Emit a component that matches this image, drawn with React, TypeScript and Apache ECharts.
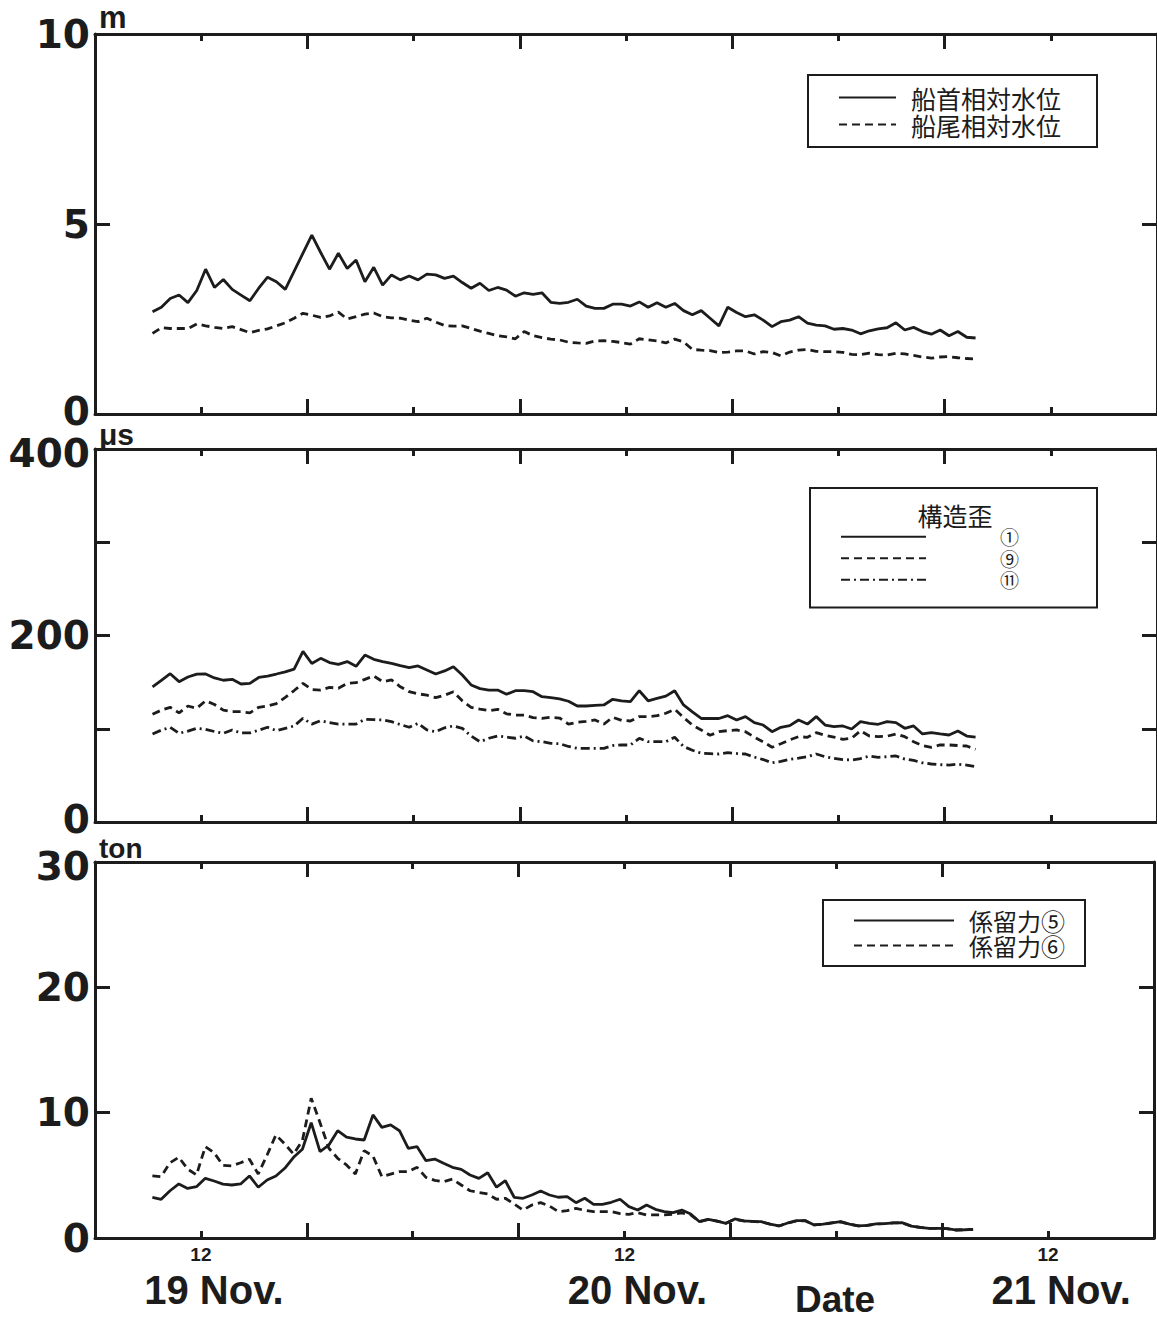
import React, { useEffect, useRef } from 'react';
import * as echarts from 'echarts';

// ---- data (hours counted from 19 Nov 00:00) ----
const START_HOUR = 9.25;
const STEP_HOURS = 0.5;

// relative water level [m]
const bowLevel = [
  2.69, 2.81, 3.04, 3.13, 2.93, 3.25, 3.81, 3.33, 3.54, 3.28,
  3.13, 2.98, 3.31, 3.60, 3.48, 3.28, null, null, 4.71, 4.25,
  3.81, 4.23, 3.83, 4.05, 3.48, 3.86, 3.39, 3.66, 3.53, 3.63,
  3.53, 3.68, 3.66, 3.57, 3.63, 3.46, 3.31, 3.44, 3.25, 3.33,
  3.26, 3.10, 3.19, 3.15, 3.19, 2.94, 2.91,
  2.94, 3.02, 2.84, 2.78, 2.78, 2.89, 2.89, 2.84, 2.95, 2.81,
  2.93, 2.81, 2.91, 2.72, 2.61, 2.72, 2.52, 2.32, 2.81, 2.67,
  2.56, 2.61, 2.47, 2.30, 2.43, 2.47, 2.56, 2.39, 2.34, 2.32,
  2.23, 2.25, 2.21, 2.11, 2.19, 2.24, 2.27, 2.40, 2.21, 2.28,
  2.17, 2.10, 2.21, 2.06, 2.17, 2.02, 2.00,
];
const sternLevel = [
  2.12, 2.27, 2.25, 2.25, 2.25, 2.37, 2.32, 2.28, 2.25, 2.30,
  2.22, 2.14, 2.20, 2.24, 2.32, 2.40, 2.52, 2.65, 2.60, 2.54,
  2.58, 2.68, 2.50, 2.56, 2.63, 2.66, 2.56, 2.53, 2.52, 2.47,
  2.43, 2.52, 2.42, 2.33, 2.31, 2.32, 2.25, 2.18, 2.12, 2.06,
  2.03, 1.98, 2.17, 2.06, 2.01, 1.97, 1.95,
  1.89, 1.87, 1.86, 1.92, 1.93, 1.91, 1.88, 1.84, 1.98, 1.95,
  1.92, 1.87, 1.97, 1.90, 1.70, 1.68, 1.67, 1.62, 1.63, 1.66,
  1.66, 1.58, 1.64, 1.62, 1.53, 1.63, 1.68, 1.70, 1.65, 1.64,
  1.64, 1.62, 1.57, 1.56, 1.60, 1.56, 1.55, 1.60, 1.58, 1.54,
  1.50, 1.47, 1.50, 1.51, 1.48, 1.46, 1.45,
];

// structural strain [micro strain]
const strain1 = [
  145, 152, 159, 150.5, 155.5, 158.5, 158.7, 154.5, 152, 153,
  148, 148.7, 155, 156.5, 158.7, 161, 164, 183, 170, 175.5,
  171, 169, 172, 167, 179, 174.5, 172, 170, 167.6, 165.5,
  167.3, 163, 158.7, 162, 166.5, 157.6, 147, 143, 141.5, 141.5,
  137, 140.8, 140.8, 139.7, 134.4, 133.3, 132,
  129.5, 124.4, 124.4, 125, 125.5, 131.6, 130, 129, 140.8, 130,
  132.5, 135, 140.8, 125.5, 118, 111, 111, 111, 114, 109.4,
  113, 106.5, 104, 96.8, 101.6, 103.3, 109.4, 105, 113, 104,
  102.2, 103, 99.7, 107.6, 105.8, 104.8, 107.6, 106.5, 100.5, 103,
  94.4, 95.8, 94.4, 93.3, 97.6, 92.2, 91,
];
const strain9 = [
  115.5, 120, 123, 117, 124.4, 122, 130, 126, 120, 118.3,
  118.3, 117, 123, 124.5, 127, 133.7, 141, 148.7, 142, 141.5,
  144.4, 143.4, 148.7, 149.4, 153, 156.6, 150.5, 152.3, 145, 139.7,
  137.5, 136, 133.3, 136, 139.7, 130, 123, 121, 119.4, 120.9,
  116, 114.7, 114.7, 112, 111.2, 112.3, 111.5,
  105, 107, 108, 109.4, 105, 112.3, 109, 108.3, 113, 113,
  114, 116.6, 120.9, 112, 104, 98.7, 93, 96.8, 98, 98.7,
  96.8, 91, 86, 80.1, 84, 88, 91.5, 90.8, 95.8, 93,
  91, 88.7, 89.8, 97.9, 92.2, 91.5, 92, 94.4, 91.5, 86.1,
  82, 80.1, 82.6, 82.6, 82, 81.5, 78,
];
const strain11 = [
  94.4, 98.5, 101.6, 95.1, 97.5, 100.5, 99.4, 97, 95.1, 98.7,
  95.5, 95.5, 98.5, 101.6, 98, 100.5, 103, 111.2, 105, 108.6,
  106.5, 105, 105, 105, 110.1, 109.7, 109.4, 107.6, 104.5, 101.6,
  105.8, 98.7, 96.8, 101, 103, 100.5, 92.2, 86.1, 89.8, 92.2,
  91, 89.8, 92.2, 87, 86.1, 84.4, 84,
  81, 79, 79, 79, 79, 82, 82.6, 82.6, 89.8, 86.1,
  86.1, 86.1, 90.8, 81, 77, 73.7, 73.3, 72.9, 74.3, 73.5,
  72.9, 69.5, 67, 63.5, 65, 67.2, 68.5, 70, 72.9, 70,
  68.3, 67, 66.5, 68, 70.8, 69.4, 70, 70.8, 67.5, 66,
  63.5, 62.2, 61.5, 61.1, 62, 61, 59.3,
];

// mooring force [ton]
const mooring5 = [
  3.25, 3.09, 3.77, 4.31, 3.95, 4.09, 4.76, 4.55, 4.30, 4.23,
  4.31, 4.95, 4.05, 4.63, 4.95, 5.56, 6.44, 7.08, 9.20, 6.89,
  7.42, 8.56, 8.04, 7.90, 7.82, 9.82, 8.83, 9.02, 8.56, 7.16,
  7.29, 6.17, 6.30, 5.96, 5.64, 5.48, 5.03, 4.76, 5.21, 4.05,
  4.57, 3.25, 3.17, 3.43, 3.75, 3.43, 3.25,
  3.30, 2.82, 3.17, 2.69, 2.69, 2.85, 3.09, 2.50, 2.23, 2.63,
  2.29, 2.10, 2.02, 2.23, 1.92, 1.30, 1.49, 1.35, 1.17, 1.52,
  1.36, 1.32, 1.30, 1.10, 0.96, 1.20, 1.38, 1.38, 1.04, 1.10,
  1.20, 1.30, 1.10, 0.96, 1.00, 1.12, 1.15, 1.20, 1.22, 0.95,
  0.85, 0.77, 0.77, 0.75, 0.64, 0.66, 0.69,
];
const mooring6 = [
  4.95, 4.90, 6.00, 6.44, 5.50, 5.03, 7.29, 6.80, 5.80, 5.75,
  6.00, 6.28, 5.11, 6.62, 8.22, 7.50, 6.70, 7.77, 11.15, 9.20,
  7.16, 6.36, 5.83, 5.11, 6.97, 6.54, 4.90, 5.10, 5.29, 5.29,
  5.64, 4.84, 4.60, 4.49, 4.70, 4.23, 3.77, 3.62, 3.51, 3.09,
  3.17, 2.71, 2.23, 2.63, 2.82, 2.55, 2.10,
  2.18, 2.37, 2.20, 2.10, 2.10, 2.10, 1.95, 1.89, 2.02, 1.84,
  1.84, 1.84, 1.90, 2.00, 1.85, 1.30, 1.49, 1.35, 1.17, 1.50,
  1.36, 1.32, 1.28, 1.10, 0.96, 1.18, 1.36, 1.38, 1.04, 1.10,
  1.20, 1.28, 1.10, 0.96, 1.00, 1.12, 1.15, 1.20, 1.20, 0.95,
  0.85, 0.77, 0.77, 0.75, 0.64, 0.66, 0.69,
];

const hours = bowLevel.map((_, i) => START_HOUR + i * STEP_HOURS);

// axis texts
const X_MIN = 6;
const X_MAX = 66;
const DATE_LABEL_HOURS = [12, 36, 60];
const HOUR_LABEL = '12';
const DATE_LABELS = ['19 Nov.', '20 Nov.', '21 Nov.'];
const X_TITLE = 'Date';
const UNITS = ['m', 'μs', 'ton'];
const Y_MAX = [10, 400, 30];
const Y_INTERVAL = [5, 100, 10];
const Y_LABEL_STEP = [5, 200, 10];

const LEVEL_NAMES = ['船首相対水位', '船尾相対水位'];
const STRAIN_TITLE = '構造歪';
const STRAIN_NAMES = ['①', '⑨', '⑪'];
const MOORING_NAMES = ['係留力⑤', '係留力⑥'];

const INK = '#1c1c1c';
const CJK = '"Noto Sans CJK JP", "Noto Sans CJK SC", sans-serif';
const SANS = '"Liberation Sans", Arial, sans-serif';
const WIDE = '"DejaVu Sans", sans-serif';
const NARROW = '"Liberation Sans Narrow", "Liberation Sans", sans-serif';

const SOLID = 'solid';
const DASHED = [8, 5];
const DASH_DOT = [9, 4, 2, 4];

export default function App() {
  const ref = useRef<HTMLDivElement>(null);

  useEffect(() => {
    if (!ref.current) return;
    const chart = echarts.init(ref.current, undefined, { renderer: 'svg' });

    const grids = [
      { left: 95, top: 34, width: 1064, height: 380 },
      { left: 95, top: 449, width: 1064, height: 373 },
      { left: 95, top: 862, width: 1064, height: 376 },
    ];

    const axisLineStyle = { color: INK, width: 3 };

    const tickX = (gridIndex: number, position: string) => ({
      type: 'value',
      gridIndex,
      position,
      min: X_MIN,
      max: X_MAX,
      interval: 12,
      axisLine: { show: true, onZero: false, lineStyle: axisLineStyle },
      axisTick: { show: true, inside: true, length: 15, lineStyle: { color: INK, width: 3 } },
      minorTick: { show: true, splitNumber: 2, length: 7, lineStyle: { color: INK, width: 3 } },
      axisLabel: { show: false },
      splitLine: { show: false },
      minorSplitLine: { show: false },
    });

    const xAxes: any[] = [];
    grids.forEach((_, g) => {
      xAxes.push(tickX(g, 'bottom'));
      xAxes.push(tickX(g, 'top'));
    });
    xAxes.push({
      type: 'value',
      gridIndex: 2,
      position: 'bottom',
      min: X_MIN,
      max: X_MAX,
      interval: 6,
      axisLine: { show: false, onZero: false },
      axisTick: { show: false },
      splitLine: { show: false },
      axisLabel: {
        show: true,
        margin: 5,
        formatter: (v: number) => {
          const i = DATE_LABEL_HOURS.indexOf(v);
          return i < 0 ? '' : `{h|${HOUR_LABEL}}\n{d|${DATE_LABELS[i]}}`;
        },
        rich: {
          h: { fontSize: 19, fontWeight: 'bold', fontFamily: NARROW, color: INK, lineHeight: 22 },
          d: { fontSize: 40, fontWeight: 'bold', fontFamily: SANS, color: INK, lineHeight: 50, padding: [0, 0, 0, 26] },
        },
      },
    });

    const yLabelRich = {
      lo: { fontSize: 39, fontWeight: 'bold', fontFamily: WIDE, color: INK, lineHeight: 34, padding: [0, 0, 6, 0] },
      mid: { fontSize: 39, fontWeight: 'bold', fontFamily: WIDE, color: INK, lineHeight: 34 },
      hi: { fontSize: 39, fontWeight: 'bold', fontFamily: WIDE, color: INK, lineHeight: 34, padding: [8, 0, 0, 0] },
    };

    const yAxes: any[] = [];
    const unitGaps = [1, 0, 0];
    const unitSizes = [31, 30, 28];
    grids.forEach((_, g) => {
      yAxes.push({
        type: 'value',
        gridIndex: g,
        position: 'left',
        min: 0,
        max: Y_MAX[g],
        interval: Y_INTERVAL[g],
        name: UNITS[g],
        nameLocation: 'end',
        nameGap: unitGaps[g],
        nameTextStyle: {
          align: 'left',
          verticalAlign: 'bottom',
          fontSize: unitSizes[g],
          fontWeight: 'bold',
          fontFamily: SANS,
          color: INK,
          padding: [0, 0, 0, 4],
        },
        axisLine: { show: true, onZero: false, lineStyle: axisLineStyle },
        axisTick: { show: true, inside: true, length: 15, lineStyle: { color: INK, width: 3 } },
        axisLabel: {
          show: true,
          margin: 5,
          fontSize: 39,
          fontWeight: 'bold',
          fontFamily: WIDE,
          color: INK,
          rich: yLabelRich,
          formatter: (v: number) => {
            if (v % Y_LABEL_STEP[g] !== 0) return '';
            if (v === 0 && g < 2) return `{lo|${v}}`;
            if (v === Y_MAX[g] && g > 0) return `{hi|${v}}`;
            return `{mid|${v}}`;
          },
        },
        splitLine: { show: false },
      });
      yAxes.push({
        type: 'value',
        gridIndex: g,
        position: 'right',
        min: 0,
        max: Y_MAX[g],
        interval: Y_INTERVAL[g],
        axisLine: { show: true, onZero: false, lineStyle: axisLineStyle },
        axisTick: { show: true, inside: true, length: 15, lineStyle: { color: INK, width: 3 } },
        axisLabel: { show: false },
        splitLine: { show: false },
      });
    });

    const line = (name: string, values: (number | null)[], g: number, type: any) => ({
      type: 'line',
      name,
      xAxisIndex: g * 2,
      yAxisIndex: g * 2,
      data: hours.map((h, i) => [h, values[i]]),
      symbol: 'none',
      connectNulls: true,
      silent: true,
      lineStyle: { color: INK, width: 2.8, type },
      itemStyle: { color: INK },
      z: 3,
    });

    const series = [
      line(LEVEL_NAMES[0], bowLevel, 0, SOLID),
      line(LEVEL_NAMES[1], sternLevel, 0, DASHED),
      line(STRAIN_NAMES[0], strain1, 1, SOLID),
      line(STRAIN_NAMES[1], strain9, 1, DASHED),
      line(STRAIN_NAMES[2], strain11, 1, DASH_DOT),
      line(MOORING_NAMES[0], mooring5, 2, SOLID),
      line(MOORING_NAMES[1], mooring6, 2, DASHED),
    ];

    const legendBase = {
      orient: 'vertical',
      selectedMode: false,
      itemGap: 0,
      borderColor: INK,
      borderWidth: 2,
      backgroundColor: '#fff',
      itemStyle: { opacity: 0 },
    };

    const option: any = {
      animation: false,
      backgroundColor: '#fff',
      grid: grids,
      xAxis: xAxes,
      yAxis: yAxes,
      series,
      legend: [
        {
          ...legendBase,
          data: LEVEL_NAMES,
          left: 808,
          top: 75,
          padding: [9, 36, 9, 30],
          itemWidth: 57,
          itemHeight: 27,
          textStyle: { fontSize: 25, lineHeight: 27, fontFamily: CJK, color: INK, padding: [0, 0, 0, 10] },
        },
        {
          ...legendBase,
          data: STRAIN_NAMES,
          left: 810,
          top: 488,
          padding: [38, 78, 17, 30],
          itemWidth: 85,
          itemHeight: 21.5,
          textStyle: { fontSize: 19, lineHeight: 21.5, fontFamily: CJK, color: INK, padding: [0, 0, 0, 69] },
        },
        {
          ...legendBase,
          data: MOORING_NAMES,
          left: 823,
          top: 900,
          padding: [8, 20, 8, 30],
          itemWidth: 100,
          itemHeight: 25,
          textStyle: { fontSize: 24, lineHeight: 25, fontFamily: CJK, color: INK, padding: [0, 0, 0, 10] },
        },
      ],
      graphic: [
        {
          type: 'text',
          x: 955,
          y: 515,
          z: 10,
          style: {
            text: STRAIN_TITLE,
            fontSize: 25,
            fontFamily: CJK,
            fill: INK,
            align: 'center',
            verticalAlign: 'middle',
          },
        },
        {
          type: 'text',
          x: 835,
          y: 1299,
          style: {
            text: X_TITLE,
            fontSize: 37,
            fontWeight: 'bold',
            fontFamily: SANS,
            fill: INK,
            align: 'center',
            verticalAlign: 'middle',
          },
        },
      ],
    };

    chart.setOption(option);
    return () => chart.dispose();
  }, []);

  return (
    <div
      ref={ref}
      style={{ position: 'absolute', left: 0, top: 0, width: 1157, height: 1321, background: '#fff' }}
    />
  );
}
